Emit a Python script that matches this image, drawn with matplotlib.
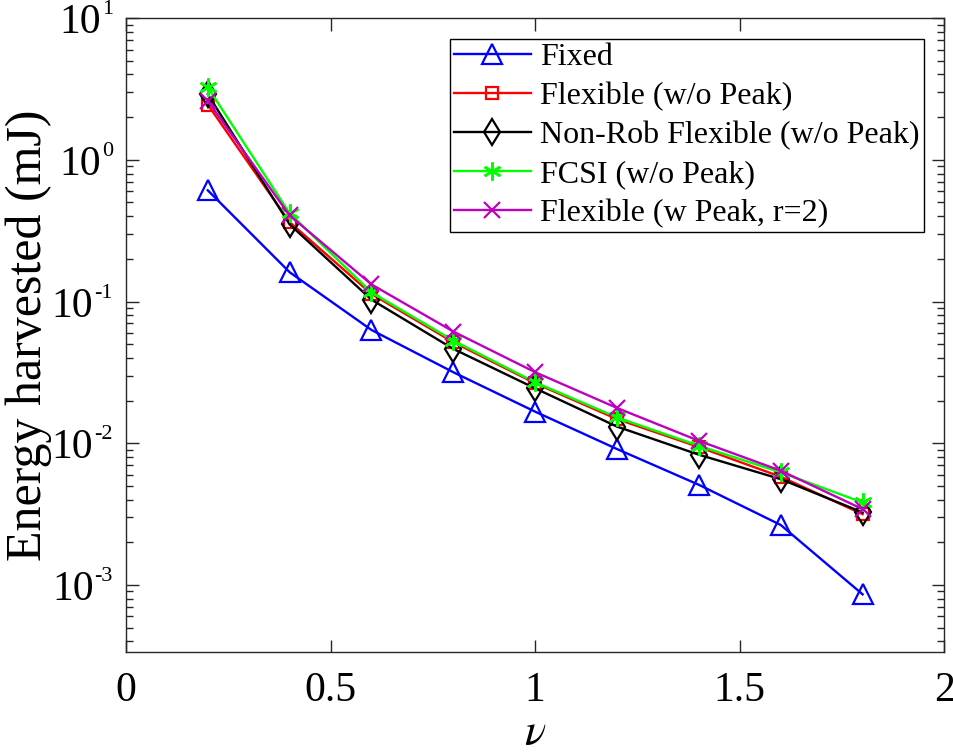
import numpy as np
import matplotlib.pyplot as plt
from matplotlib.ticker import NullFormatter

plt.rcParams['font.family'] = ['Liberation Serif', 'DejaVu Serif']
plt.rcParams['mathtext.fontset'] = 'stix'
plt.rcParams['mathtext.default'] = 'regular'

# harvested energy (mJ) against nu
nu = [0.2, 0.4, 0.6, 0.8, 1.0, 1.2, 1.4, 1.6, 1.8]

fixed = [0.609, 0.161, 0.063, 0.0317, 0.0167, 0.0091, 0.00509, 0.00265, 0.000859]
flexible = [2.45, 0.363, 0.113, 0.0516, 0.0265, 0.0148, 0.0094, 0.0058, 0.00316]
nonrob = [2.9, 0.35, 0.103, 0.0463, 0.0244, 0.0131, 0.0083, 0.00558, 0.00325]
fcsi = [3.25, 0.419, 0.116, 0.053, 0.0269, 0.0152, 0.0096, 0.00623, 0.00382]
peak = [2.6, 0.405, 0.132, 0.0614, 0.0317, 0.01774, 0.0104, 0.0064, 0.00343]

labels = ['Fixed', 'Flexible (w/o Peak)', 'Non-Rob Flexible (w/o Peak)',
          'FCSI (w/o Peak)', 'Flexible (w Peak, r=2)']

xticks = [0, 0.5, 1, 1.5, 2]
xticklabels = ['0', '0.5', '1', '1.5', '2']
ytick_exps = [-3, -2, -1, 0, 1]

fig = plt.figure(figsize=(9.54, 7.53), dpi=100)
ax = fig.add_axes([0.132, 0.134, 0.858, 0.842])

lw = 1.7
ax.plot(nu, fixed, color='b', marker='^', ms=14, mfc='none', mew=1.6, lw=lw, label=labels[0])
ax.plot(nu, flexible, color='r', marker='s', ms=9, mfc='none', mew=1.6, lw=lw, label=labels[1])
ax.plot(nu, nonrob, color='k', marker='d', ms=13, mfc='none', mew=1.6, lw=lw, label=labels[2])
ax.plot(nu, fcsi, color=(0, 1, 0), marker=(6, 2, 0), ms=13, mew=1.8, lw=lw, label=labels[3])
ax.plot(nu, peak, color='m', marker='x', ms=12, mew=1.6, lw=lw, label=labels[4])

ax.set_yscale('log')
ax.set_xlim(0, 2)
ax.set_ylim(3.36e-4, 10)
ax.set_xticks(xticks)
ax.set_xticklabels(xticklabels)
ax.set_yticks([10.0 ** e for e in ytick_exps])
ax.yaxis.set_major_formatter(NullFormatter())
ax.yaxis.set_minor_formatter(NullFormatter())

# decade labels: "10" with a small raised exponent (hyphen as the minus)
for e in ytick_exps:
    v = 10.0 ** e
    sup = ax.annotate(str(e), xy=(0, v), xycoords=('axes fraction', 'data'),
                      xytext=(-13, 4), textcoords='offset pixels',
                      ha='right', va='baseline', fontsize=16, annotation_clip=False)
    ax.annotate('10', xy=(0, v), xycoords=(sup, 'data'),
                xytext=(-1, -15), textcoords='offset pixels',
                ha='right', va='baseline', fontsize=30, annotation_clip=False)

for s in ax.spines.values():
    s.set_color('#262626')
    s.set_linewidth(1.0)
ax.tick_params(which='both', direction='in', top=True, right=True,
               colors='#262626', labelcolor='k', labelsize=30)
ax.tick_params(axis='x', pad=14)
ax.tick_params(which='major', length=9, width=1.0)
ax.tick_params(which='minor', length=5, width=1.0)
ax.tick_params(axis='x', which='minor', bottom=False, top=False)

ax.set_xlabel(r'$\it{\nu}$', fontsize=32, labelpad=3)
ax.set_ylabel('Energy harvested (mJ)', fontsize=36)
ax.yaxis.set_label_coords(-0.09, 0.5)

leg = ax.legend(loc='upper right', fontsize=23, frameon=True, fancybox=False,
                edgecolor='k', framealpha=1, handlelength=2.4, handletextpad=0.3,
                labelspacing=0.3, borderaxespad=0.65, borderpad=0.12)
leg.get_frame().set_linewidth(1.0)

fig.savefig('out.png', dpi=100)
